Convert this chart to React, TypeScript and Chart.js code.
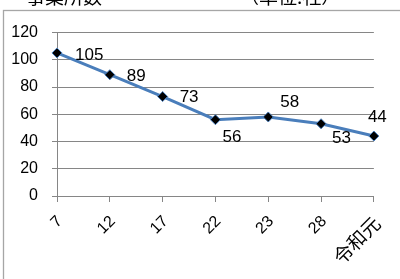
import React, { useEffect, useRef } from "react";
import { Chart, registerables } from "chart.js";

Chart.register(...registerables);

const categories = ["7", "12", "17", "22", "23", "28", "令和元"];
const values = [105, 89, 73, 56, 58, 53, 44];
const yTicks = { min: 0, max: 120, step: 20 };
const titleText = "事業所数";
const unitText = "（単位:社）";
// label offsets (dx from point to label left edge, dy to label middle)
const labelOffsets: [number, number][] = [
  [18, 2],
  [17, 2],
  [17, 1],
  [7, 18],
  [12, -15],
  [11, 15],
  [-6, -19],
];

const FONT = "'Liberation Sans', 'Noto Sans CJK JP', sans-serif";
const CJK = "'Noto Sans CJK JP', 'Liberation Sans', sans-serif";
const GRID = "#868686";

const decor = {
  id: "decor",
  beforeDraw(chart: any) {
    const ctx = chart.ctx;
    ctx.save();
    ctx.fillStyle = "#ffffff";
    ctx.fillRect(0, 0, chart.width, chart.height);
    ctx.strokeStyle = "#a6a6a6";
    ctx.lineWidth = 1.3;
    ctx.strokeRect(3.5, 10.5, 600, 400);
    ctx.fillStyle = "#000";
    ctx.font = `19px ${CJK}`;
    ctx.textBaseline = "alphabetic";
    ctx.textAlign = "left";
    ctx.fillText(titleText, 26, 4);
    ctx.fillText(unitText, 240, 4);
    ctx.restore();
  },
  afterDatasetsDraw(chart: any) {
    const ctx = chart.ctx;
    const meta = chart.getDatasetMeta(0);
    ctx.save();
    ctx.fillStyle = "#000";
    ctx.font = `17px ${FONT}`;
    ctx.textAlign = "left";
    ctx.textBaseline = "middle";
    meta.data.forEach((pt: any, i: number) => {
      const [dx, dy] = labelOffsets[i];
      ctx.fillText(String(values[i]), pt.x + dx, pt.y + dy);
    });
    ctx.restore();
  },
};

export default function App() {
  const ref = useRef<HTMLCanvasElement>(null);
  useEffect(() => {
    if (!ref.current) return;
    const chart = new Chart(ref.current, {
      type: "line",
      data: {
        labels: categories,
        datasets: [
          {
            data: values,
            borderColor: "#4a7ebb",
            borderWidth: 3,
            pointStyle: "rectRot",
            pointRadius: 5,
            pointBackgroundColor: "#000",
            pointBorderColor: "#4a7ebb",
            pointBorderWidth: 1,
            tension: 0,
          },
        ],
      },
      options: {
        animation: false,
        responsive: false,
        devicePixelRatio: 1,
        layout: { padding: { left: 0, top: 32.5, right: 25, bottom: 0 } },
        plugins: { legend: { display: false }, tooltip: { enabled: false } },
        scales: {
          x: {
            offset: false,
            afterFit: (s: any) => {
              s.height = 83;
            },
            grid: {
              drawOnChartArea: false,
              drawTicks: true,
              tickLength: 6,
              color: GRID,
            },
            border: { display: true, color: GRID },
            ticks: {
              minRotation: 45,
              maxRotation: 45,
              autoSkip: false,
              padding: 10,
              labelOffset: 3,
              color: "#000",
              font: (c: any) => {
                const lbl = c.tick ? String(c.tick.label) : "";
                return /[^\x00-\x7f]/.test(lbl)
                  ? { size: 19, family: CJK }
                  : { size: 16, family: FONT };
              },
            },
          },
          y: {
            min: yTicks.min,
            max: yTicks.max,
            afterFit: (s: any) => {
              s.width = 57;
            },
            grid: { color: GRID, tickLength: 5, drawTicks: true },
            border: { display: true, color: GRID },
            ticks: {
              stepSize: yTicks.step,
              padding: 14,
              color: "#000",
              font: { size: 16, family: FONT },
            },
          },
        },
      },
      plugins: [decor],
    });
    return () => chart.destroy();
  }, []);
  return (
    <div style={{ position: "absolute", left: 0, top: 0, width: 400, height: 279 }}>
      <canvas ref={ref} width={400} height={279} style={{ display: "block" }} />
    </div>
  );
}
